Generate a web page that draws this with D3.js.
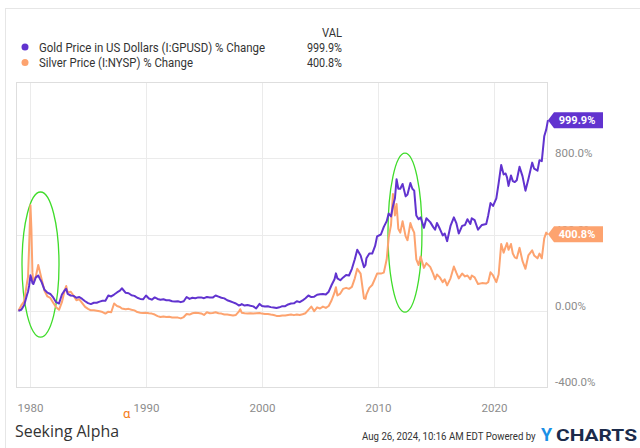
<!DOCTYPE html>
<html><head><meta charset="utf-8">
<script src="https://cdn.jsdelivr.net/npm/d3@7"></script>
<style>body{margin:0;background:#fff;} svg{display:block;font-family:Roboto,"Noto Sans",sans-serif;}</style>
</head><body><svg id="c" width="640" height="448"></svg>
<script>
// decimal-year dates shared by both series
const dates = [
1979.00,1979.25,1979.50,1979.75,1979.83,1979.92,1980.04,1980.12,1980.21,1980.29,1980.50,1980.71,1980.83,
1981.00,1981.25,1981.50,1981.75,1982.00,1982.25,1982.50,1982.75,1983.00,1983.12,1983.25,1983.50,1983.75,
1984.00,1984.25,1984.50,1984.75,1985.00,1985.25,1985.50,1985.75,1986.00,1986.25,1986.50,1986.75,
1987.00,1987.25,1987.50,1987.75,1987.92,1988.25,1988.50,1988.75,1989.00,1989.25,1989.50,1989.75,
1990.00,1990.25,1990.50,1990.75,1991.00,1991.25,1991.50,1991.75,1992.00,1992.25,1992.50,1992.75,
1993.00,1993.25,1993.50,1993.75,1994.00,1994.25,1994.50,1994.75,1995.00,1995.25,1995.50,1995.75,
1996.00,1996.25,1996.50,1996.75,1997.00,1997.25,1997.50,1997.75,1998.00,1998.12,1998.25,1998.50,1998.75,
1999.00,1999.25,1999.50,1999.79,2000.00,2000.25,2000.50,2000.75,2001.00,2001.25,2001.50,2001.75,
2002.00,2002.25,2002.50,2002.75,2003.00,2003.25,2003.50,2003.75,2004.00,2004.25,2004.50,2004.75,
2005.00,2005.25,2005.50,2005.75,2006.00,2006.25,2006.37,2006.50,2006.75,2007.00,2007.25,2007.50,2007.75,
2008.00,2008.21,2008.50,2008.79,2008.92,2009.00,2009.25,2009.50,2009.75,2009.92,2010.25,2010.50,2010.75,2010.92,
2011.12,2011.29,2011.46,2011.60,2011.75,2011.92,2012.12,2012.38,2012.54,2012.79,2012.96,
2013.12,2013.30,2013.50,2013.67,2013.96,2014.17,2014.50,2014.75,2014.92,2015.08,2015.33,2015.58,2015.75,2015.96,
2016.25,2016.54,2016.75,2016.96,2017.25,2017.50,2017.71,2017.96,2018.08,2018.33,2018.62,2018.96,
2019.33,2019.50,2019.70,2019.92,2020.20,2020.40,2020.62,2020.83,2021.00,2021.12,2021.25,2021.46,2021.62,2021.79,2021.96,
2022.20,2022.46,2022.71,2022.96,2023.29,2023.46,2023.75,2023.92,2024.12,2024.33,2024.50,2024.65];

const gold = [
0,5,30,85,100,130,186,170,145,140,175,185,170,
150,110,95,88,70,45,38,85,108,115,88,80,78,
68,72,62,50,40,35,42,42,48,52,52,80,
75,85,96,105,118,94,92,81,78,68,62,60,
80,64,58,70,62,58,60,55,55,50,49,50,
45,50,72,62,68,66,70,70,66,72,69,69,
80,74,68,65,55,50,44,38,28,30,35,27,30,
26,23,12,36,25,22,24,19,17,14,18,24,
24,33,38,39,50,45,54,66,80,72,74,84,
87,88,85,100,135,165,196,170,160,175,188,185,220,
270,320,290,228,240,275,300,300,340,390,400,440,470,510,
495,550,590,690,640,640,665,600,610,670,640,
630,500,480,490,435,485,465,440,425,460,430,395,405,365,
445,490,460,405,445,450,480,455,485,475,425,450,
455,500,565,550,590,670,765,715,720,700,655,710,680,675,685,
755,705,630,690,777,745,735,790,785,915,950,999.9];

const silver = [
0,28,50,150,178,330,553,430,200,150,180,240,210,
165,105,75,67,42,18,5,45,110,130,95,100,80,
55,60,40,20,10,2,3,0,-3,-7,-15,-5,
-8,38,25,20,12,8,10,5,2,-7,-10,-12,
-10,-13,-15,-20,-28,-33,-30,-33,-32,-35,-35,-36,
-40,-33,-17,-20,-13,-10,-12,-14,-22,-8,-13,-12,
-8,-13,-15,-20,-20,-22,-25,-22,-5,8,-10,-13,-15,
-13,-15,-13,-12,-15,-17,-17,-20,-22,-27,-28,-25,
-25,-22,-20,-23,-20,-22,-18,-13,5,22,-2,18,
12,22,15,25,55,95,123,80,90,115,120,115,125,
170,220,195,65,62,85,120,135,170,195,195,200,270,385,
450,612,500,560,430,410,470,390,370,460,430,
410,270,240,285,225,250,230,195,165,190,175,150,165,133,
170,232,200,170,195,180,185,165,185,175,140,145,
143,150,202,185,150,190,350,305,335,355,320,350,300,280,275,
330,260,220,290,317,290,275,300,275,380,410,400.8];

const seriesNames = ["Gold Price in US Dollars (I:GPUSD) % Change", "Silver Price (I:NYSP) % Change"];
const seriesColors = ["#6133cf", "#fda36f"];
const lastValues = [999.9, 400.8];
const yTicks = [-400, 0, 400, 800];
const xTickYears = [1980, 1990, 2000, 2010, 2020];
const annotations = [
  {x0: 1979.31, x1: 1982.5, v0: -138, v1: 623},
  {x0: 2010.86, x1: 2013.79, v0: -7, v1: 827}
];

function toDate(y){ const yr=Math.floor(y); const s=new Date(yr,0,1), e=new Date(yr+1,0,1); return new Date(+s + (y-yr)*(e-s)); }

const svg = d3.select("#c");
const plot = {l:16, r:547, t:82, b:387};
const x = d3.scaleTime().domain([toDate(1980), toDate(2020)]).range([30, 494]);
const y = d3.scaleLinear().domain([-400, 1200]).range([plot.b, plot.t]);

// outer frame
svg.append("rect").attr("x",5.5).attr("y",8.5).attr("width",700).attr("height",500)
  .attr("fill","none").attr("stroke","#e6e6e6");

// grid
const g = svg.append("g");
g.selectAll(".vg").data(xTickYears).join("line")
  .attr("x1",d=>Math.round(x(toDate(d)))+0.5).attr("x2",d=>Math.round(x(toDate(d)))+0.5)
  .attr("y1",plot.t).attr("y2",plot.b).attr("stroke","#ebebeb");
g.selectAll(".hg").data(yTicks.filter(v=>v>-400)).join("line")
  .attr("x1",plot.l).attr("x2",plot.r)
  .attr("y1",d=>Math.round(y(d))+0.5).attr("y2",d=>Math.round(y(d))+0.5).attr("stroke","#ebebeb");
svg.append("rect").attr("x",plot.l+0.5).attr("y",plot.t+0.5).attr("width",plot.r-plot.l).attr("height",plot.b-plot.t)
  .attr("fill","none").attr("stroke","#dedede");

// axes
const xa = svg.append("g").attr("transform",`translate(0,${plot.b})`)
  .call(d3.axisBottom(x).tickValues(xTickYears.map(toDate)).tickFormat(d3.timeFormat("%Y")).tickSize(0).tickPadding(17));
xa.select(".domain").remove();
xa.selectAll("text").attr("fill","#8c8c8c").attr("font-size",11.5).attr("font-family","Roboto");

const ya = svg.append("g").attr("transform",`translate(${plot.r},0)`)
  .call(d3.axisRight(y).tickValues(yTicks).tickFormat(d=>d===0?"0.00%":d.toFixed(1)+"%").tickSize(0).tickPadding(8));
ya.select(".domain").remove();
ya.selectAll("text").attr("fill","#8c8c8c").attr("font-size",11.5).attr("font-family","Roboto").attr("transform","translate(0,-5)");

// annotation ellipses
svg.selectAll(".ann").data(annotations).join("ellipse")
  .attr("cx",d=>(x(toDate(d.x0))+x(toDate(d.x1)))/2)
  .attr("cy",d=>(y(d.v0)+y(d.v1))/2)
  .attr("rx",d=>(x(toDate(d.x1))-x(toDate(d.x0)))/2)
  .attr("ry",d=>(y(d.v0)-y(d.v1))/2)
  .attr("fill","none").attr("stroke","#3fdc2a").attr("stroke-width",1.3);

// lines
const series = [gold, silver];
const line = d3.line().x(d=>x(toDate(d[0]))).y(d=>y(d[1])).curve(d3.curveLinear);
[1,0].forEach(i=>{
  svg.append("path").datum(dates.map((t,k)=>[t, series[i][k]]))
    .attr("d",line).attr("fill","none").attr("stroke",seriesColors[i])
    .attr("stroke-width",2).attr("stroke-linejoin","round");
});

// end badges
lastValues.forEach((v,i)=>{
  const cy = y(v), x0 = plot.r + 1;
  svg.append("path").attr("d",`M${x0},${cy} L${x0+6},${cy-8} L603,${cy-8} L603,${cy+8} L${x0+6},${cy+8} Z`)
    .attr("fill",seriesColors[i]);
  svg.append("text").attr("x",577).attr("y",cy+4).attr("text-anchor","middle")
    .attr("fill","#fff").attr("font-weight","bold").attr("font-size",11).attr("font-family","Roboto")
    .text(v.toFixed(1)+"%");
});

// legend
svg.append("text").attr("x",342).attr("y",36.5).attr("text-anchor","end").attr("font-size",12)
  .attr("fill","#333").attr("textLength",20).attr("lengthAdjust","spacingAndGlyphs").text("VAL");
const legW = [226, 154];
seriesNames.forEach((n,i)=>{
  const cy = 47 + i*15.5;
  svg.append("circle").attr("cx",25).attr("cy",cy).attr("r",3.5).attr("fill",seriesColors[i]);
  svg.append("text").attr("x",39).attr("y",cy+4.5).attr("font-size",12.5).attr("fill","#333")
    .attr("textLength",legW[i]).attr("lengthAdjust","spacingAndGlyphs").text(n);
  svg.append("text").attr("x",342).attr("y",cy+4.5).attr("text-anchor","end").attr("font-size",12.5).attr("fill","#333")
    .attr("textLength",35).attr("lengthAdjust","spacingAndGlyphs").text(lastValues[i].toFixed(1)+"%");
});

// footer
svg.append("text").attr("x",15).attr("y",437).attr("font-size",17).attr("fill","#333")
  .attr("font-family","'Open Sans',Roboto").attr("textLength",104).attr("lengthAdjust","spacingAndGlyphs").text("Seeking Alpha");
svg.append("text").attr("x",123).attr("y",418).attr("font-size",13).attr("fill","#f57c20").text("α");
svg.append("text").attr("transform","translate(362,440) scale(0.84,1)").attr("font-size",11.5).attr("fill","#333")
  .text("Aug 26, 2024, 10:16 AM EDT Powered by");
svg.append("text").attr("x",541).attr("y",441).attr("font-size",18).attr("font-weight","bold").attr("fill","#1a90e6").text("Y");
svg.append("text").attr("x",556).attr("y",441).attr("font-size",17).attr("font-weight","bold").attr("fill","#1b2b4b")
  .attr("textLength",81).attr("lengthAdjust","spacingAndGlyphs").text("CHARTS");
</script></body></html>
